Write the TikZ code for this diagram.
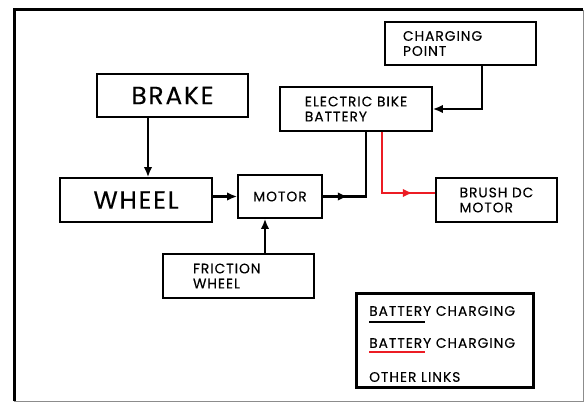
\documentclass[tikz,border=0pt]{standalone}
\usepackage{fontspec}
\setmainfont{Poppins}[LetterSpace=7,FakeBold=0.2]
\usetikzlibrary{arrows.meta,positioning,decorations.markings}
\definecolor{linkred}{HTML}{EC1C24}
\definecolor{framegray}{HTML}{8C8C8C}

\begin{document}
\begin{tikzpicture}[x=1pt,y=-1pt,font=\fontsize{13.8}{15}\selectfont,
  unit/.style={draw,line width=1.6pt,minimum width=151pt,minimum height=43pt,inner sep=0pt,align=left},
  big/.style={font=\fontsize{25}{27}\selectfont},
  link/.style={line width=2.5pt,-{Latex[length=10pt,width=8.5pt]}},
  midtip/.style={line width=2.5pt,postaction={decorate,decoration={markings,mark=at position #1 with {\arrow{Latex[length=10pt,width=8.5pt]}}}}}]
\useasboundingbox (0,0) rectangle (586,403);
% outer frame
\draw[framegray,line width=1pt] (583,10) -- (583,401) -- (14,401);
\draw[line width=3pt] (14,401) -- (14,10) -- (583,10);
% blocks
\node[unit,big] (brake) at (172.5,95.5) {BRAKE};
\node[unit,big,minimum width=152pt,minimum height=44pt] (wheel) at (136,200) {WHEEL};
\node[unit,minimum width=84pt] (motor) at (280,196.5) {MOTOR};
\node[unit,minimum height=44pt,text width=91pt] (friction) at (238.5,276) {FRICTION\\WHEEL};
\node[unit,minimum width=152pt,minimum height=44pt] (battery) at (356,109) {ELECTRIC BIKE\\BATTERY};
\node[unit,minimum width=121pt,minimum height=44pt] (brushdc) at (496.5,200) {BRUSH DC\\MOTOR};
\node[unit,text width=115pt] (charging) at (460.5,43.5) {CHARGING\\POINT};
% links
\draw[link] ([xshift=-24.5pt]brake.south) -- ([xshift=-24.5pt]brake.south |- wheel.north);
\draw[link] (wheel.east |- motor) -- (motor.west);
\draw[link] ([xshift=26.5pt]friction.north) -- ([xshift=26.5pt]friction.north |- motor.south);
\draw[link] ([xshift=21.5pt]charging.south) |- (battery.east);
\draw[midtip=25pt] (motor.east) -| ([xshift=10pt]battery.south);
\draw[midtip=92pt,linkred] ([xshift=26pt]battery.south) |- ([yshift=7pt]brushdc.west);
% key
\draw[line width=3pt] (356,293) rectangle (533,387);
\node[anchor=west,inner sep=0pt] (keyblack) at (369,311) {BATTERY CHARGING};
\draw[line width=2.5pt] ([yshift=-11pt]keyblack.west) -- ++(56,0);
\node[anchor=west,inner sep=0pt] (keyred) at (369,343) {BATTERY CHARGING};
\draw[linkred,line width=2.5pt] ([yshift=-9pt]keyred.west) -- ++(56,0);
\node[anchor=west,inner sep=0pt] (keyother) at (369,377) {OTHER LINKS};
\end{tikzpicture}
\end{document}
